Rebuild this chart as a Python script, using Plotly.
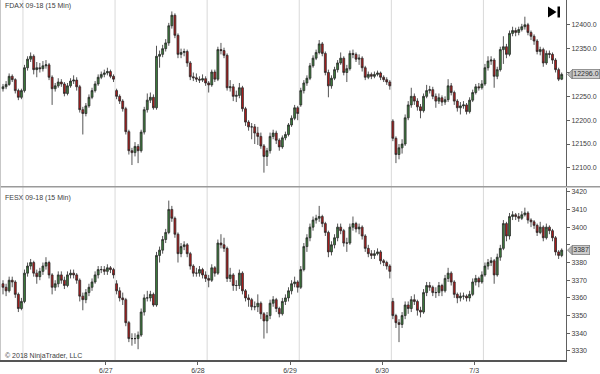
import plotly.graph_objects as go

# ---------------- DATA ----------------
fdax_open = [12266,12270,12275,12292,12285,12262,12248,12262,12310,12328,
 12334,12306,12310,12308,12314,12316,12290,12266,12272,12280,
 12276,12256,12272,12282,12284,12270,12222,12214,12230,12248,
 12262,12276,12290,12296,12299,12302,12292,12262,12250,12240,
 12224,12176,12136,12132,12145,12136,12175,12222,12242,12248,
 12226,12334,12338,12350,12362,12398,12420,12378,12338,12342,
 12344,12320,12291,12289,12286,12284,12287,12278,12274,12301,
 12286,12348,12346,12336,12268,12270,12250,12252,12268,12224,
 12196,12186,12186,12173,12166,12146,12124,12136,12166,12173,
 12158,12144,12163,12170,12190,12204,12226,12232,12262,12278,
 12288,12314,12330,12342,12360,12340,12300,12272,12288,12306,
 12320,12330,12300,12308,12340,12338,12328,12330,12310,12290,
 12296,12292,12296,12299,12290,12285,12280,12198,12162,12128,
 12142,12150,12205,12232,12250,12240,12228,12220,12250,12262,
 12264,12250,12240,12247,12238,12243,12272,12258,12240,12226,
 12230,12232,12218,12242,12258,12270,12268,12276,12310,12324,
 12326,12292,12306,12348,12354,12338,12382,12388,12384,12390,
 12396,12400,12384,12376,12366,12344,12348,12320,12340,12338,
 12326,12306,12286]
fdax_high = [12276,12282,12298,12296,12288,12266,12266,12316,12334,12342,
 12338,12322,12320,12324,12326,12320,12294,12278,12288,12286,
 12280,12278,12288,12294,12290,12274,12228,12236,12254,12268,
 12282,12296,12302,12306,12310,12306,12296,12266,12254,12244,
 12228,12180,12142,12154,12150,12180,12228,12256,12258,12254,
 12356,12346,12358,12370,12404,12428,12424,12382,12350,12350,
 12348,12324,12300,12298,12292,12296,12292,12282,12306,12306,
 12354,12362,12352,12340,12284,12276,12262,12278,12272,12228,
 12200,12194,12192,12186,12174,12150,12142,12174,12180,12178,
 12162,12168,12176,12194,12210,12232,12230,12268,12284,12294,
 12320,12336,12348,12368,12364,12344,12306,12294,12312,12326,
 12342,12334,12316,12346,12348,12342,12338,12334,12314,12302,
 12300,12302,12304,12302,12294,12290,12284,12202,12166,12150,
 12160,12212,12240,12268,12256,12246,12234,12256,12274,12272,
 12270,12256,12256,12252,12250,12286,12278,12262,12244,12238,
 12240,12236,12248,12264,12276,12278,12284,12318,12334,12334,
 12330,12312,12354,12376,12360,12388,12396,12394,12396,12402,
 12417,12404,12388,12380,12370,12354,12352,12346,12346,12342,
 12330,12310,12300]
fdax_low = [12260,12265,12272,12280,12256,12242,12244,12258,12304,12322,
 12296,12290,12300,12302,12308,12284,12232,12260,12268,12270,
 12250,12252,12268,12276,12262,12216,12170,12208,12226,12244,
 12258,12272,12286,12290,12294,12288,12280,12244,12234,12218,
 12170,12128,12106,12124,12110,12132,12170,12216,12236,12222,
 12222,12310,12332,12344,12356,12392,12372,12330,12330,12334,
 12312,12284,12282,12280,12278,12280,12272,12258,12270,12280,
 12282,12338,12330,12262,12260,12240,12238,12246,12218,12188,
 12178,12160,12150,12148,12140,12090,12104,12130,12160,12150,
 12136,12140,12158,12166,12186,12200,12200,12228,12256,12272,
 12284,12310,12326,12338,12334,12294,12248,12266,12284,12300,
 12316,12294,12280,12304,12330,12322,12316,12302,12284,12286,
 12286,12288,12292,12284,12280,12274,12264,12156,12110,12118,
 12130,12146,12200,12226,12232,12220,12204,12216,12246,12256,
 12244,12226,12234,12230,12232,12238,12252,12232,12218,12212,
 12224,12212,12214,12238,12254,12262,12264,12272,12304,12316,
 12268,12286,12302,12318,12330,12334,12376,12376,12378,12386,
 12390,12378,12368,12358,12338,12336,12312,12316,12330,12318,
 12300,12282,12284]
fdax_close = [12270,12275,12292,12285,12262,12248,12262,12310,12328,12334,
 12306,12310,12308,12314,12316,12290,12266,12272,12280,12276,
 12256,12272,12282,12284,12270,12222,12214,12230,12248,12262,
 12276,12290,12296,12299,12302,12292,12286,12250,12240,12224,
 12176,12136,12132,12145,12136,12175,12222,12242,12248,12226,
 12334,12338,12350,12362,12398,12420,12378,12338,12342,12344,
 12320,12291,12289,12286,12284,12287,12278,12274,12301,12286,
 12348,12346,12336,12268,12270,12250,12252,12268,12224,12196,
 12186,12186,12173,12166,12146,12124,12136,12166,12173,12158,
 12144,12163,12170,12190,12204,12226,12214,12262,12278,12288,
 12314,12330,12342,12360,12340,12300,12272,12288,12306,12320,
 12330,12300,12308,12340,12338,12328,12330,12310,12290,12296,
 12292,12296,12299,12290,12285,12280,12272,12162,12128,12142,
 12150,12205,12232,12250,12240,12228,12220,12250,12262,12264,
 12250,12240,12247,12238,12243,12272,12258,12240,12226,12230,
 12232,12218,12242,12258,12270,12268,12276,12310,12324,12326,
 12292,12306,12348,12354,12338,12382,12388,12384,12390,12396,
 12400,12384,12376,12366,12344,12348,12320,12340,12338,12326,
 12306,12286,12296]

fesx_open = [3368,3366,3364,3370,3369,3362,3354,3358,3374,3378,
 3380,3374,3372,3375,3378,3380,3373,3366,3368,3373,
 3370,3367,3373,3374,3373,3370,3361,3359,3363,3366,
 3369,3373,3376,3376,3375,3377,3376,3368,3364,3360,
 3359,3346,3337,3337,3337,3339,3352,3360,3360,3362,
 3356,3384,3387,3393,3397,3410,3405,3396,3385,3389,
 3390,3385,3378,3374,3374,3376,3373,3371,3370,3377,
 3374,3391,3390,3388,3371,3373,3367,3367,3374,3364,
 3360,3359,3355,3355,3357,3351,3347,3350,3357,3359,
 3354,3351,3358,3360,3364,3368,3369,3366,3376,3389,
 3394,3400,3404,3405,3406,3402,3397,3386,3390,3394,
 3400,3398,3391,3391,3400,3402,3399,3400,3395,3388,
 3385,3384,3385,3386,3381,3380,3378,3358,3350,3346,
 3345,3350,3356,3354,3359,3358,3353,3352,3363,3367,
 3366,3363,3363,3367,3364,3371,3374,3369,3362,3360,
 3361,3361,3360,3362,3369,3371,3369,3373,3378,3380,
 3381,3373,3383,3388,3402,3395,3406,3407,3406,3405,
 3407,3408,3404,3403,3401,3397,3400,3394,3400,3398,
 3394,3386,3384]
fesx_high = [3370,3368,3372,3372,3370,3363,3360,3376,3380,3382,
 3381,3376,3377,3380,3383,3381,3374,3370,3375,3375,
 3372,3375,3376,3376,3374,3371,3363,3365,3368,3371,
 3375,3378,3378,3378,3379,3378,3377,3370,3366,3363,
 3360,3347,3340,3340,3341,3354,3362,3364,3364,3363,
 3386,3389,3395,3399,3415,3412,3406,3397,3391,3392,
 3391,3386,3379,3377,3378,3377,3375,3373,3379,3378,
 3393,3396,3394,3389,3377,3374,3370,3376,3375,3365,
 3362,3360,3358,3362,3358,3352,3352,3359,3361,3360,
 3355,3360,3362,3366,3370,3372,3370,3378,3391,3396,
 3402,3406,3407,3412,3407,3403,3398,3392,3396,3402,
 3402,3399,3394,3402,3406,3403,3402,3401,3396,3390,
 3387,3387,3388,3387,3382,3381,3379,3360,3351,3348,
 3352,3358,3358,3361,3362,3359,3355,3365,3369,3369,
 3367,3366,3369,3368,3373,3377,3375,3370,3363,3363,
 3363,3362,3364,3371,3373,3372,3375,3380,3382,3383,
 3382,3385,3390,3404,3403,3408,3409,3408,3408,3409,
 3411,3409,3405,3404,3402,3403,3401,3402,3401,3399,
 3395,3387,3388]
fesx_low = [3362,3361,3363,3366,3360,3352,3353,3357,3372,3376,
 3372,3368,3370,3373,3376,3371,3362,3364,3366,3368,
 3365,3366,3371,3371,3368,3358,3353,3357,3361,3364,
 3368,3371,3374,3373,3373,3374,3371,3362,3358,3356,
 3344,3335,3333,3334,3331,3338,3350,3358,3358,3355,
 3355,3380,3385,3391,3396,3403,3394,3380,3383,3387,
 3383,3376,3372,3372,3372,3371,3369,3366,3369,3372,
 3373,3388,3386,3369,3369,3364,3364,3365,3362,3358,
 3355,3353,3353,3352,3348,3337,3340,3348,3355,3352,
 3349,3350,3356,3358,3362,3366,3363,3365,3375,3386,
 3392,3398,3402,3403,3400,3395,3383,3384,3388,3392,
 3396,3389,3386,3390,3398,3397,3396,3393,3386,3383,
 3382,3382,3384,3379,3378,3376,3371,3348,3343,3335,
 3343,3348,3351,3352,3356,3350,3349,3351,3361,3364,
 3361,3360,3361,3361,3363,3369,3367,3360,3357,3358,
 3359,3358,3358,3361,3367,3366,3368,3372,3376,3378,
 3368,3372,3381,3387,3392,3393,3404,3404,3403,3404,
 3406,3402,3400,3399,3395,3396,3392,3393,3396,3392,
 3384,3382,3383]
fesx_close = [3366,3364,3370,3369,3362,3354,3358,3374,3378,3380,
 3374,3372,3375,3378,3380,3373,3366,3368,3373,3370,
 3367,3373,3374,3373,3370,3361,3359,3363,3366,3369,
 3373,3376,3376,3375,3377,3376,3373,3364,3360,3359,
 3346,3337,3337,3337,3339,3352,3360,3360,3362,3356,
 3384,3387,3393,3397,3410,3405,3396,3385,3389,3390,
 3385,3378,3374,3374,3376,3373,3371,3370,3377,3374,
 3391,3390,3388,3371,3373,3367,3367,3374,3364,3360,
 3359,3355,3355,3357,3351,3347,3350,3357,3359,3354,
 3351,3358,3360,3364,3368,3369,3366,3376,3389,3394,
 3400,3404,3405,3406,3402,3397,3386,3390,3394,3400,
 3398,3391,3391,3400,3402,3399,3400,3395,3388,3385,
 3384,3385,3386,3381,3380,3378,3375,3350,3346,3345,
 3350,3356,3354,3359,3358,3353,3352,3363,3367,3366,
 3363,3363,3367,3364,3371,3374,3369,3362,3360,3361,
 3361,3360,3362,3369,3371,3369,3373,3378,3380,3381,
 3373,3383,3388,3402,3395,3406,3407,3406,3405,3407,
 3408,3404,3403,3401,3397,3400,3394,3400,3398,3394,
 3386,3384,3387]

bar_index = list(range(len(fdax_close)))
session_starts = [7, 37, 67, 97, 127, 157]
date_tick_pos = [33.5, 63.5, 93.5, 123.5, 153.5]
date_labels = ["6/27", "6/28", "6/29", "6/30", "7/3"]
fdax_ticks = [12100, 12150, 12200, 12250, 12300, 12350, 12400]
fesx_ticks = [3330, 3340, 3350, 3360, 3370, 3380, 3390, 3400, 3410, 3420]

# ---------------- LAYOUT GEOMETRY ----------------
W, H = 600, 374
ML, MR, MT, MB = 0, 34, 0, 14
PW, PH = W - ML - MR, H - MT - MB
FONT = "Liberation Sans, Arial, sans-serif"
UP_FILL, DN_FILL, EDGE = "#3d7f3d", "#b31b1b", "#2a2a2a"

def px_x(p):
    return p / PW

def px_y(p):
    return 1 - p / PH

top_dom = [px_y(186), 1.0]
bot_dom = [0.0, px_y(187.5)]
top_range = [12062, 12452]
bot_range = [3324.9, 3422.4]
x_range = [-0.98, 183.4]

fig = go.Figure()
for o, h, l, c, xa, ya in [
    (fdax_open, fdax_high, fdax_low, fdax_close, "x", "y"),
    (fesx_open, fesx_high, fesx_low, fesx_close, "x2", "y2"),
]:
    fig.add_trace(go.Candlestick(
        x=bar_index, open=o, high=h, low=l, close=c,
        xaxis=xa, yaxis=ya, whiskerwidth=0,
        increasing=dict(fillcolor=UP_FILL, line=dict(color=EDGE, width=0.8)),
        decreasing=dict(fillcolor=DN_FILL, line=dict(color=EDGE, width=0.8)),
        showlegend=False, hoverinfo="skip",
    ))

# tick labels hidden behind the last-price markers in the reference
def tick_text(vals, fmt, hidden):
    return ["" if v == hidden else format(v, fmt) for v in vals]

axis_font = dict(family=FONT, size=7, color="#404040")
yax_common = dict(side="right", showgrid=False, zeroline=False, showline=True,
                  linecolor="#606060", linewidth=1, ticks="outside", ticklen=3,
                  tickcolor="#606060", tickfont=axis_font, fixedrange=True)

fig.update_layout(
    width=W, height=H,
    margin=dict(l=ML, r=MR, t=MT, b=MB),
    paper_bgcolor="white", plot_bgcolor="white",
    boxgap=0.12,
    xaxis=dict(domain=[0, 1], range=x_range, anchor="y", showticklabels=False,
               showgrid=False, zeroline=False, showline=False, ticks="",
               rangeslider=dict(visible=False)),
    xaxis2=dict(domain=[0, 1], range=x_range, anchor="y2", matches="x",
                tickvals=date_tick_pos, ticktext=date_labels, ticks="outside",
                ticklen=3, tickcolor="#606060", showgrid=False, zeroline=False,
                showline=True, linecolor="#555555", linewidth=1.5,
                tickfont=axis_font, rangeslider=dict(visible=False)),
    yaxis=dict(domain=top_dom, range=top_range, anchor="x", tickvals=fdax_ticks,
               ticktext=tick_text(fdax_ticks, ".1f", 12300), **yax_common),
    yaxis2=dict(domain=bot_dom, range=bot_range, anchor="x2", tickvals=fesx_ticks,
                ticktext=tick_text(fesx_ticks, "d", 3390), **yax_common),
)

shapes = []
for s in session_starts:
    shapes.append(dict(type="line", xref="x", yref="paper", x0=s - 0.5, x1=s - 0.5,
                       y0=0, y1=1, line=dict(color="#d9d9d9", width=1), layer="below"))
# panel separator and left border
shapes.append(dict(type="line", xref="paper", yref="paper", x0=0, x1=W / PW,
                   y0=px_y(186.8), y1=px_y(186.8), line=dict(color="#9a9a9a", width=1.5)))
shapes.append(dict(type="line", xref="paper", yref="paper", x0=0.0008, x1=0.0008,
                   y0=0, y1=1, line=dict(color="#c4c4c4", width=1)))
# "jump to end" icon
shapes.append(dict(type="path", xref="paper", yref="paper",
                   path=f"M {px_x(548)} {px_y(6.5)} L {px_x(548)} {px_y(17.5)} L {px_x(556.5)} {px_y(12)} Z",
                   fillcolor="black", line=dict(width=0)))
shapes.append(dict(type="rect", xref="paper", yref="paper",
                   x0=px_x(557.5), x1=px_x(560), y0=px_y(17.5), y1=px_y(6.5),
                   fillcolor="black", line=dict(width=0)))

# last-price markers on the right axes
top_ppp = (top_range[1] - top_range[0]) / (top_dom[1] - top_dom[0]) / PH
bot_ppp = (bot_range[1] - bot_range[0]) / (bot_dom[1] - bot_dom[0]) / PH
annotations = []
for last, yref, ppp, txt in [
    (fdax_close[-1], "y", top_ppp, f"{fdax_close[-1]:.1f}"),
    (fesx_close[-1], "y2", bot_ppp, f"{fesx_close[-1]:d}"),
]:
    shapes.append(dict(type="path", xref="paper", yref=yref,
                       path=f"M {px_x(567.5)} {last} L {px_x(572)} {last + 4.5 * ppp} L {px_x(572)} {last - 4.5 * ppp} Z",
                       fillcolor="#b8b8b8", line=dict(color="#808080", width=0.8)))
    annotations.append(dict(xref="paper", yref=yref, x=px_x(571.5), y=last,
                            xanchor="left", yanchor="middle", text=txt, showarrow=False,
                            bgcolor="#cdcdcd", bordercolor="#808080", borderwidth=0.8,
                            borderpad=0.5, font=dict(family=FONT, size=7, color="#303030")))

label_font = dict(family=FONT, size=7, color="#404040")
annotations += [
    dict(xref="paper", yref="paper", x=px_x(3), y=px_y(6), xanchor="left", yanchor="middle",
         text="FDAX 09-18 (15 Min)", showarrow=False, font=label_font),
    dict(xref="paper", yref="paper", x=px_x(3), y=px_y(197.5), xanchor="left", yanchor="middle",
         text="FESX 09-18 (15 Min)", showarrow=False, font=label_font),
    dict(xref="paper", yref="paper", x=px_x(3), y=px_y(356), xanchor="left", yanchor="middle",
         text="© 2018 NinjaTrader, LLC", showarrow=False, font=label_font),
]

fig.update_layout(shapes=shapes, annotations=annotations)
fig.write_html("out.html")
